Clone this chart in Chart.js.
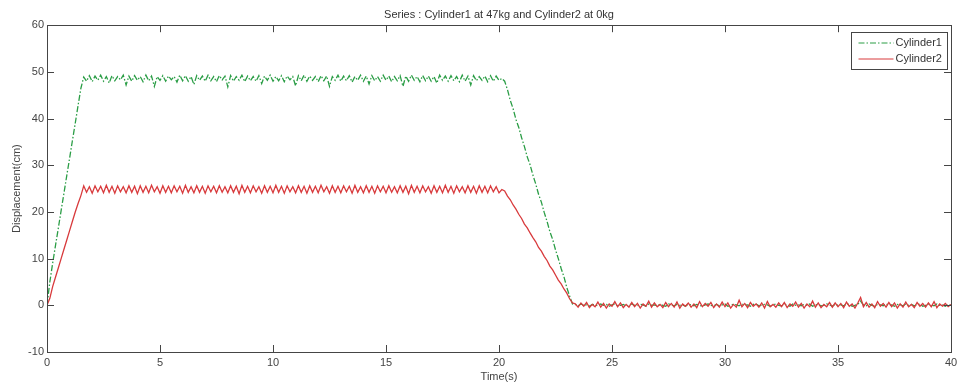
<!DOCTYPE html>
<html>
<head>
<meta charset="utf-8">
<script src="https://cdn.jsdelivr.net/npm/chart.js@4"></script>
<style>
  html, body { margin: 0; padding: 0; background: #fff; }
  #wrap { width: 957px; height: 388px; }
</style>
</head>
<body>
<div id="wrap"><canvas id="disp-chart" width="957" height="388"></canvas></div>
<script>
// sampled every 0.125 s from 0 to 40 s
const sampleStep = 0.125;
const seriesLabels = ['Cylinder1', 'Cylinder2'];
const xTicks = [0, 5, 10, 15, 20, 25, 30, 35, 40];
const yTicks = [-10, 0, 10, 20, 30, 40, 50, 60];

const cylinder1 = [
    0, 5, 9, 12.8, 16.5, 20.3, 24, 27.8, 31.5, 35.3, 39, 42.8, 46.5,
    48.9, 48.0, 49.2, 47.9, 49.1, 48.2, 49.3, 48.0, 49.0, 47.6,
    49.2, 48.1, 49.0, 48.3, 49.3, 47.2, 49.1, 48.0, 49.2, 48.2,
    49.0, 47.9, 49.3, 48.1, 49.1, 46.9, 49.0, 48.2, 49.2, 48.0,
    49.1, 48.3, 49.0, 47.8, 49.3, 48.1, 49.2, 48.0, 49.0, 47.3,
    49.2, 48.2, 49.1, 48.0, 49.3, 48.1, 49.0, 47.9, 49.2, 48.3,
    49.1, 46.8, 49.2, 48.0, 49.0, 48.2, 49.3, 47.9, 49.1, 48.1,
    49.0, 48.0, 49.2, 47.5, 49.1, 48.2, 49.3, 48.0, 49.0, 48.1,
    49.2, 47.9, 49.1, 48.3, 49.0, 47.0, 49.2, 48.1, 49.3, 48.0,
    49.1, 48.2, 49.0, 47.9, 49.2, 48.1, 49.1, 46.9, 49.0, 48.2,
    49.3, 48.0, 49.1, 48.1, 49.2, 47.8, 49.0, 48.2, 49.3, 48.0,
    49.1, 47.4, 49.2, 48.1, 49.0, 48.0, 49.3, 48.2, 49.1, 47.9,
    49.0, 48.1, 49.2, 46.9, 49.1, 48.0, 49.3, 48.2, 49.0, 47.9,
    49.2, 48.1, 49.1, 48.0, 49.0, 47.6, 49.3, 48.2, 49.1, 48.0,
    49.2, 48.1, 49.0, 47.9, 49.3, 48.0, 49.1, 47.2, 49.2, 48.1,
    49.0, 48.2, 49.1, 47.9, 49.2, 48.0, 49.1, 48.2, 48.6,
    48.0, 46.2, 43.9, 42.1, 39.8, 38.1, 35.9, 34.0, 31.8, 30.1,
    27.9, 26.0, 23.8, 22.1, 19.9, 18.0, 15.8, 14.1, 11.9, 10.0,
    7.9, 6.1, 3.8, 2.0, 0.3,
    0.2, -0.1, 0.3, 0.0, 0.1, -0.2, 0.2, 0.1, -0.1, 0.3,
    0.0, 0.2, -0.2, 0.1, 0.3, -0.1, 0.0, 0.2, -0.2, 0.1,
    0.3, 0.0, -0.1, 0.2, 0.1, -0.2, 0.3, 0.0, 0.1, -0.1,
    0.2, 0.0, -0.2, 0.3, 0.1, -0.1, 0.2, 0.0, 0.1, -0.2,
    0.3, 0.1, -0.1, 0.2, 0.0, -0.2, 0.1, 0.3, 0.0, -0.1,
    0.2, -0.1, 0.1, 0.3, -0.2, 0.0, 0.2, 0.1, -0.1, 0.3,
    0.0, 0.1, -0.2, 0.2, 0.3, -0.1, 0.0, 0.2, 0.1, -0.2,
    0.1, 0.3, 0.0, -0.1, 0.2, 0.1, -0.2, 0.3, 0.0, 0.1,
    -0.1, 0.2, 0.0, 0.3, -0.2, 0.1, 0.2, -0.1, 0.0, 0.3,
    0.1, -0.2, 0.2, 0.0, 0.1, -0.1, 0.3, 0.2, -0.2, 0.0,
    0.2, 0.9, 0.1, -0.1, 0.3, 0.0, -0.2, 0.2, 0.1, -0.1,
    0.3, 0.0, 0.1, -0.2, 0.2, 0.1, -0.1, 0.3, 0.0, 0.2,
    -0.1, 0.1, 0.3, -0.2, 0.0, 0.2, 0.1, -0.1, 0.3, 0.0,
    0.1, -0.2, 0.2, 0.0
];

const cylinder2 = [
    0, 1.5, 4, 6, 8, 10, 12, 14, 16, 18, 20, 21.8, 23.5,
    25.6, 24.2, 25.4, 24.0, 25.6, 24.3, 25.5, 24.1, 25.7, 24.2,
    25.5, 24.0, 25.6, 24.3, 25.4, 24.1, 25.6, 24.2, 25.5, 23.9,
    25.6, 24.2, 25.5, 24.1, 25.7, 24.3, 25.4, 24.0, 25.6, 24.2,
    25.5, 24.1, 25.6, 24.3, 25.5, 24.0, 25.7, 24.2, 25.4, 24.1,
    25.6, 24.2, 25.5, 24.0, 25.6, 24.3, 25.5, 24.1, 25.6, 24.2,
    25.4, 24.1, 25.6, 24.2, 25.5, 23.9, 25.7, 24.2, 25.5, 24.1,
    25.6, 24.3, 25.4, 24.0, 25.6, 24.2, 25.5, 24.1, 25.7, 24.2,
    25.5, 24.0, 25.6, 24.3, 25.4, 24.1, 25.6, 24.2, 25.5, 24.0,
    25.6, 24.2, 25.5, 24.1, 25.7, 24.3, 25.4, 24.0, 25.6, 24.2,
    25.5, 24.1, 25.6, 24.3, 25.5, 24.0, 25.7, 24.2, 25.4, 24.1,
    25.6, 24.2, 25.5, 24.0, 25.6, 24.3, 25.5, 24.1, 25.6, 24.2,
    25.4, 24.1, 25.6, 24.2, 25.5, 23.9, 25.7, 24.2, 25.5, 24.1,
    25.6, 24.3, 25.4, 24.0, 25.6, 24.2, 25.5, 24.1, 25.7, 24.2,
    25.5, 24.0, 25.6, 24.3, 25.4, 24.1, 25.6, 24.2, 25.5, 24.0,
    25.6, 24.2, 25.5, 24.1, 25.6, 24.3, 25.4, 24.1, 24.8,
    24.5, 23.4, 22.6, 21.5, 20.6, 19.5, 18.6, 17.4, 16.6, 15.5,
    14.5, 13.6, 12.4, 11.6, 10.5, 9.6, 8.4, 7.6, 6.5, 5.4,
    4.6, 3.5, 2.6, 1.4, 0.5,
    0.3, -0.4, 0.5, -0.2, 0.6, -0.5, 0.2, -0.3, 0.7, -0.4,
    0.4, -0.6, 0.3, -0.2, 0.8, -0.3, 0.5, -0.5, 0.2, -0.4,
    0.6, -0.3, 0.4, -0.6, 0.3, -0.2, 0.9, -0.4, 0.5, -0.3,
    0.2, -0.5, 0.6, -0.3, 0.4, -0.4, 0.7, -0.6, 0.3, -0.2,
    0.5, -0.4, 0.3, -0.5, 0.8, -0.3, 0.4, -0.2, 0.6, -0.5,
    0.3, -0.4, 0.7, -0.3, 0.5, -0.6, 0.2, -0.4, 1.1, -0.3,
    0.4, -0.5, 0.6, -0.2, 0.3, -0.4, 0.5, -0.6, 0.8, -0.3,
    0.2, -0.4, 0.5, -0.3, 0.6, -0.5, 0.3, -0.2, 0.7, -0.4,
    0.4, -0.6, 0.3, -0.3, 0.9, -0.4, 0.5, -0.5, 0.2, -0.3,
    0.6, -0.4, 0.5, -0.3, 0.4, -0.5, 0.7, -0.2, 0.3, -0.6,
    0.5, 1.7, -0.3, 0.6, -0.4, 0.3, -0.5, 0.8, -0.2, 0.4,
    -0.4, 0.6, -0.3, 0.5, -0.6, 0.3, -0.4, 0.7, -0.3, 0.2,
    -0.5, 0.6, -0.2, 0.4, -0.4, 0.5, -0.3, 0.8, -0.5, 0.3,
    -0.2, 0.4, -0.3, 0.2
];

const FONT = "'Liberation Sans', Arial, sans-serif";
const AXIS_COLOR = '#454545';
const TEXT_COLOR = '#444';
const GREEN = '#2a9d45';
const RED = '#d83a3c';
const GREEN_DASH = [6, 2, 1.5, 2]; // dash-dot like matlab '-.'

function toPoints(values) {
    return values.map((v, i) => ({ x: i * sampleStep, y: v }));
}

// matlab style box with inward ticks on all four sides
const boxPlugin = {
    id: 'matlabBox',
    afterDraw(c) {
        const ctx = c.ctx;
        const a = c.chartArea;
        const xs = c.scales.x, ys = c.scales.y;
        const tl = 7;
        ctx.save();
        ctx.strokeStyle = AXIS_COLOR;
        ctx.lineWidth = 1;
        ctx.strokeRect(Math.round(a.left) + 0.5, Math.round(a.top) + 0.5,
                       Math.round(a.right - a.left), Math.round(a.bottom - a.top));
        ctx.beginPath();
        xTicks.forEach(t => {
            const px = Math.round(xs.getPixelForValue(t)) + 0.5;
            ctx.moveTo(px, a.bottom); ctx.lineTo(px, a.bottom - tl);
            ctx.moveTo(px, a.top); ctx.lineTo(px, a.top + tl);
        });
        yTicks.forEach(t => {
            const py = Math.round(ys.getPixelForValue(t)) + 0.5;
            ctx.moveTo(a.left, py); ctx.lineTo(a.left + tl, py);
            ctx.moveTo(a.right, py); ctx.lineTo(a.right - tl, py);
        });
        ctx.stroke();

        // legend box in the upper right corner
        const w = 96, h = 37;
        const lx = Math.round(a.right - 100) + 0.5, ly = Math.round(a.top + 7) + 0.5;
        ctx.fillStyle = '#fff';
        ctx.fillRect(lx, ly, w, h);
        ctx.strokeRect(lx, ly, w, h);
        ctx.font = '11px ' + FONT;
        ctx.textBaseline = 'middle';
        ctx.textAlign = 'left';
        c.data.datasets.forEach((ds, i) => {
            const ry = ly + 10.5 + i * 16;
            ctx.beginPath();
            ctx.strokeStyle = ds.borderColor;
            ctx.setLineDash(ds.borderDash || []);
            ctx.moveTo(lx + 7, ry); ctx.lineTo(lx + 42, ry);
            ctx.stroke();
            ctx.setLineDash([]);
            ctx.fillStyle = '#333';
            ctx.fillText(ds.label, lx + 44, ry);
        });
        ctx.restore();
    }
};

const chart = new Chart(document.getElementById('disp-chart'), {
    type: 'line',
    data: {
        datasets: [{
            label: seriesLabels[0],
            data: toPoints(cylinder1),
            borderColor: GREEN,
            borderWidth: 1.3,
            borderDash: GREEN_DASH,
            pointRadius: 0,
            tension: 0,
            order: 1
        }, {
            label: seriesLabels[1],
            data: toPoints(cylinder2),
            borderColor: RED,
            borderWidth: 1.3,
            pointRadius: 0,
            tension: 0,
            order: 0
        }]
    },
    options: {
        responsive: false,
        animation: false,
        layout: { padding: { left: 0, right: 6, top: 0, bottom: 0 } },
        scales: {
            x: {
                type: 'linear',
                min: 0,
                max: 40,
                afterFit(s) { s.height = 36; s.paddingLeft = 0; s.paddingRight = 0; },
                afterBuildTicks(s) { s.ticks = xTicks.map(v => ({ value: v })); },
                grid: { display: false, drawTicks: false },
                border: { display: false },
                ticks: { color: TEXT_COLOR, padding: 4, font: { family: FONT, size: 11 } },
                title: {
                    display: true,
                    text: 'Time(s)',
                    color: TEXT_COLOR,
                    padding: { top: 0, bottom: 4 },
                    font: { family: FONT, size: 11 }
                }
            },
            y: {
                min: -10,
                max: 60,
                afterFit(s) { s.width = 47; s.paddingTop = 0; s.paddingBottom = 0; },
                afterBuildTicks(s) { s.ticks = yTicks.map(v => ({ value: v })); },
                grid: { display: false, drawTicks: false },
                border: { display: false },
                ticks: { color: TEXT_COLOR, padding: 3, font: { family: FONT, size: 11 } },
                title: {
                    display: true,
                    text: 'Displacement(cm)',
                    color: TEXT_COLOR,
                    padding: { top: 10, bottom: 0 },
                    font: { family: FONT, size: 11 }
                }
            }
        },
        plugins: {
            legend: { display: false },
            tooltip: { enabled: false },
            title: {
                display: true,
                fullSize: false,
                text: 'Series : Cylinder1 at 47kg and Cylinder2 at 0kg',
                color: '#333',
                padding: { top: 8, bottom: 4 },
                font: { family: FONT, size: 11, weight: 'normal' }
            }
        }
    },
    plugins: [boxPlugin]
});
</script>
</body>
</html>
